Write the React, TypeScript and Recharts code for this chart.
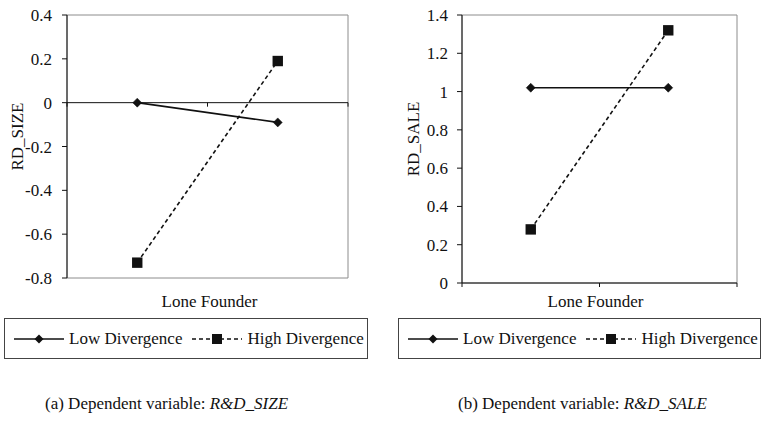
import React from 'react';
import { LineChart, Line, XAxis, YAxis, ReferenceLine, ReferenceArea, Legend } from 'recharts';

const categories = ['Low', 'High'];
const sizeLow = [0, -0.09];
const sizeHigh = [-0.73, 0.19];
const saleLow = [1.02, 1.02];
const saleHigh = [0.28, 1.32];
const sizeTicks = [-0.8, -0.6, -0.4, -0.2, 0, 0.2, 0.4];
const saleTicks = [0, 0.2, 0.4, 0.6, 0.8, 1, 1.2, 1.4];
const seriesNames = ['Low Divergence', 'High Divergence'];

const sizeData = categories.map((c, i) => ({ cat: c, low: sizeLow[i], high: sizeHigh[i] }));
const saleData = categories.map((c, i) => ({ cat: c, low: saleLow[i], high: saleHigh[i] }));

const FONT = "'Liberation Serif', 'Times New Roman', Tinos, serif";
const INK = '#111';
const FRAME = '#8c8c8c';

const Diamond = (props: any) => {
  const { cx, cy, index } = props;
  if (cx == null || cy == null) return <g key={'d' + index} />;
  const r = 4.5;
  return (
    <polygon
      key={'d' + index}
      points={`${cx},${cy - r} ${cx + r},${cy} ${cx},${cy + r} ${cx - r},${cy}`}
      fill={INK}
      stroke={INK}
      strokeWidth={0.5}
    />
  );
};

const Square = (props: any) => {
  const { cx, cy, index } = props;
  if (cx == null || cy == null) return <g key={'s' + index} />;
  const h = 5.2;
  return <rect key={'s' + index} x={cx - h} y={cy - h} width={2 * h} height={2 * h} fill={INK} />;
};

const LegendBox = (props: any) => {
  const items = [...(props.payload || [])].sort(
    (a: any, b: any) => seriesNames.indexOf(a.value) - seriesNames.indexOf(b.value)
  );
  return (
    <div
      style={{
        display: 'flex',
        alignItems: 'center',
        height: '100%',
        paddingLeft: 9,
        fontFamily: FONT,
        fontSize: 17,
        color: '#111',
        whiteSpace: 'nowrap',
        boxSizing: 'border-box',
      }}
    >
      {items.map((entry: any, i: number) => {
        const dashed = entry.dataKey === 'high';
        return (
          <div key={i} style={{ display: 'flex', alignItems: 'center', marginRight: 10 }}>
            <svg width={50} height={14} style={{ marginRight: 5 }}>
              <line
                x1={0}
                y1={7}
                x2={50}
                y2={7}
                stroke={INK}
                strokeWidth={1.6}
                strokeDasharray={dashed ? '4 3' : undefined}
              />
              {dashed ? (
                <rect x={20} y={2} width={10} height={10} fill={INK} />
              ) : (
                <polygon points="25,2.5 29.5,7 25,11.5 20.5,7" fill={INK} />
              )}
            </svg>
            <span>{entry.value}</span>
          </div>
        );
      })}
    </div>
  );
};

const tickStyle = { fontFamily: FONT, fontSize: 17, fill: '#111' };

const yLabel = (text: string, dx: number) => (p: any) => {
  const vb = p.viewBox || { x: 0, y: 0, width: 0, height: 0 };
  const x = vb.x + dx;
  const y = vb.y + vb.height / 2 - 10;
  return (
    <text
      x={x}
      y={y}
      transform={`rotate(-90 ${x} ${y})`}
      textAnchor="middle"
      dominantBaseline="central"
      style={{ fontFamily: FONT, fontSize: 17, fill: '#111' }}
    >
      {text}
    </text>
  );
};

const xLabel = (shift: number) => (p: any) => {
  const vb = p.viewBox || { x: 0, y: 0, width: 0, height: 0 };
  return (
    <text
      x={vb.x + vb.width / 2 + shift}
      y={vb.y + vb.height}
      textAnchor="middle"
      style={{ fontFamily: FONT, fontSize: 17, fill: '#111' }}
    >
      Lone Founder
    </text>
  );
};

const CategoryAxisLine = (p: any) => {
  const { x1, x2, y1, y2 } = p;
  if (x1 == null) return <g />;
  const mid = (x1 + x2) / 2;
  return (
    <g>
      <line x1={x1} y1={y1} x2={x2} y2={y2} stroke={INK} strokeWidth={1} />
      {[x1, mid, x2].map((x, i) => (
        <line key={i} x1={x} y1={y1} x2={x} y2={y1 + 4} stroke={INK} strokeWidth={1} />
      ))}
    </g>
  );
};

const legendWrap = (left: number, width: number) => ({
  left,
  top: 318,
  width,
  height: 41,
  border: '1px solid #444',
  boxSizing: 'border-box' as const,
  background: '#fff',
});

export default function App() {
  return (
    <div style={{ position: 'absolute', left: 0, top: 0, width: 761, height: 427, background: '#fff', fontFamily: FONT }}>
      <div style={{ position: 'absolute', left: 0, top: 0 }}>
        <LineChart width={380} height={370} data={sizeData} margin={{ top: 15, right: 32, bottom: 63, left: 0 }}>
          <ReferenceArea y1={-0.8} y2={0.4} fill="none" stroke={FRAME} strokeWidth={1} ifOverflow="visible" />
          <XAxis
            dataKey="cat"
            scale="band"
            axisLine={false}
            tickLine={false}
            tick={false}
            height={29}
            label={xLabel(2)}
          />
          <YAxis
            domain={[-0.8, 0.4]}
            ticks={sizeTicks}
            width={67}
            tickSize={5}
            tickMargin={10}
            tick={tickStyle}
            axisLine={{ stroke: INK }}
            tickLine={{ stroke: INK }}
            label={yLabel('RD_SIZE', 17)}
          />
          <ReferenceLine y={0} shape={CategoryAxisLine} />
          <Line
            dataKey="low"
            name={seriesNames[0]}
            stroke={INK}
            strokeWidth={1.6}
            dot={Diamond}
            isAnimationActive={false}
          />
          <Line
            dataKey="high"
            name={seriesNames[1]}
            stroke={INK}
            strokeWidth={1.6}
            strokeDasharray="4 3"
            dot={Square}
            isAnimationActive={false}
          />
          <Legend verticalAlign="middle" align="center" content={LegendBox} wrapperStyle={legendWrap(4, 364)} />
        </LineChart>
      </div>
      <div style={{ position: 'absolute', left: 380, top: 0 }}>
        <LineChart width={381} height={370} data={saleData} margin={{ top: 15, right: 24, bottom: 63, left: 0 }}>
          <ReferenceArea y1={0} y2={1.4} fill="none" stroke={FRAME} strokeWidth={1} ifOverflow="visible" />
          <XAxis
            dataKey="cat"
            scale="band"
            axisLine={false}
            tickLine={false}
            tick={false}
            height={24}
            label={xLabel(-4)}
          />
          <YAxis
            domain={[0, 1.4]}
            ticks={saleTicks}
            width={82}
            tickSize={5}
            tickMargin={9}
            tick={tickStyle}
            axisLine={{ stroke: INK }}
            tickLine={{ stroke: INK }}
            label={yLabel('RD_SALE', 33)}
          />
          <ReferenceLine y={0} shape={CategoryAxisLine} />
          <Line
            dataKey="low"
            name={seriesNames[0]}
            stroke={INK}
            strokeWidth={1.6}
            dot={Diamond}
            isAnimationActive={false}
          />
          <Line
            dataKey="high"
            name={seriesNames[1]}
            stroke={INK}
            strokeWidth={1.6}
            strokeDasharray="4 3"
            dot={Square}
            isAnimationActive={false}
          />
          <Legend verticalAlign="middle" align="center" content={LegendBox} wrapperStyle={legendWrap(18, 363)} />
        </LineChart>
      </div>
      <div style={{ position: 'absolute', left: 45, top: 394, fontSize: 17, lineHeight: '20px', color: '#111', whiteSpace: 'nowrap' }}>
        (a) Dependent variable: <i>R&amp;D_SIZE</i>
      </div>
      <div style={{ position: 'absolute', left: 458, top: 394, fontSize: 17, lineHeight: '20px', color: '#111', whiteSpace: 'nowrap' }}>
        (b) Dependent variable: <i>R&amp;D_SALE</i>
      </div>
    </div>
  );
}
